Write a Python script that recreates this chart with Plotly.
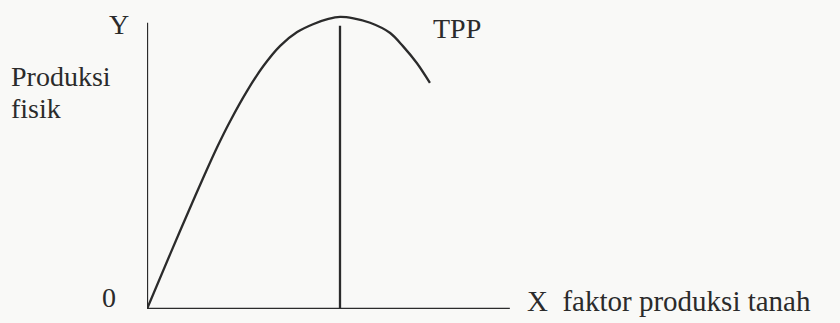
import plotly.graph_objects as go

# Total physical product (TPP) curve: land input vs physical output
land_input = [0.0, 0.6, 1.17, 1.5, 1.81, 2.15, 2.59, 3.01, 3.45, 3.89, 4.30,
              4.70, 5.0, 5.35, 5.78, 6.30, 6.63, 6.99, 7.33]
physical_output = [0.0, 18.8, 36.3, 46.2, 55.2, 64.2, 74.6, 83.1, 90.1, 94.8, 97.5,
                   99.3, 100.0, 99.5, 98.0, 94.5, 90.0, 84.2, 77.4]

# Input level at which TPP reaches its maximum
peak_input = 5.0

# Extent of the drawn axes
x_axis_end = 9.4
y_axis_top = 98.0

ink = "#2b2b2b"
serif = "Liberation Serif, Times New Roman, serif"

fig = go.Figure()

fig.add_trace(go.Scatter(
    x=land_input, y=physical_output,
    mode="lines",
    line=dict(color=ink, width=2.3, shape="spline", smoothing=0.9),
    cliponaxis=False,
    hoverinfo="skip",
    showlegend=False,
))

# Axes and the vertical line through the maximum
fig.add_shape(type="line", x0=0, y0=0, x1=0, y1=y_axis_top,
              xref="x", yref="y", line=dict(color=ink, width=2.3))
fig.add_shape(type="line", x0=0, y0=0, x1=x_axis_end, y1=0,
              xref="x", yref="y", line=dict(color=ink, width=2.3))
fig.add_shape(type="line", x0=peak_input, y0=-1.4, x1=peak_input, y1=97.0,
              xref="x", yref="y", line=dict(color=ink, width=2.3))

# Plot-area geometry in pixels, used to place the text labels in paper units
PLOT_LEFT, PLOT_WIDTH = 147, 386
PLOT_TOP, PLOT_HEIGHT = 2, 307


def label(text, px, py, xanchor="left", size=28):
    fig.add_annotation(
        text=text,
        x=(px - PLOT_LEFT) / PLOT_WIDTH,
        y=(PLOT_TOP + PLOT_HEIGHT - py) / PLOT_HEIGHT,
        xref="paper", yref="paper",
        xanchor=xanchor, yanchor="middle",
        showarrow=False,
        font=dict(family=serif, size=size, color=ink),
    )


label("Y", 119, 24, xanchor="center")
label("Produksi", 9, 76)
label("fisik", 9, 108)
label("0", 109, 297, xanchor="center")
label("TPP", 431, 28)
label("X  faktor produksi tanah", 525, 301, size=29)

fig.update_xaxes(range=[0, 10], visible=False, fixedrange=True)
fig.update_yaxes(range=[0, 105.1], visible=False, fixedrange=True)

fig.update_layout(
    width=840, height=323,
    margin=dict(l=PLOT_LEFT, r=840 - PLOT_LEFT - PLOT_WIDTH, t=PLOT_TOP, b=323 - PLOT_TOP - PLOT_HEIGHT),
    paper_bgcolor="#f9f9f7",
    plot_bgcolor="rgba(0,0,0,0)",
    showlegend=False,
)

fig.write_html("out.html", config={"displayModeBar": False})
